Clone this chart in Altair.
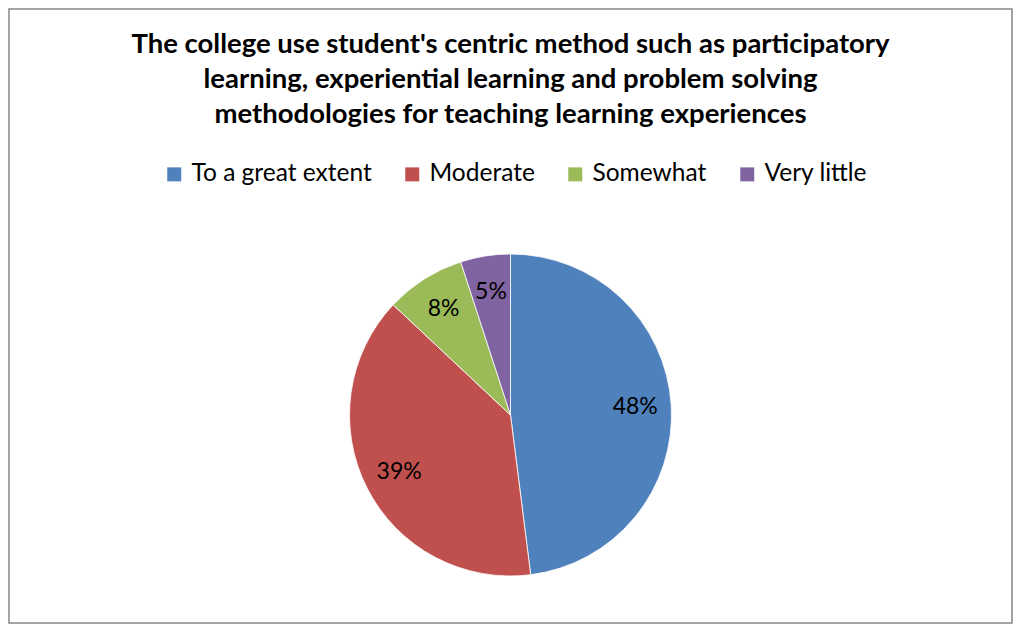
import altair as alt
import pandas as pd

categories = ["To a great extent", "Moderate", "Somewhat", "Very little"]
values = [48, 39, 8, 5]
labels = ["48%", "39%", "8%", "5%"]
colors = ["#4F81BD", "#C0504D", "#9BBB59", "#8064A2"]
title_lines = [
    "The college use student's centric method such as participatory",
    "learning, experiential learning and problem solving",
    "methodologies for teaching learning experiences",
]

df = pd.DataFrame({"category": categories, "value": values, "label": labels,
                   "order": list(range(len(categories)))})

FONT = "Lato"

base = alt.Chart(df).encode(
    theta=alt.Theta("value:Q", stack=True),
    order=alt.Order("order:Q"),
)

arc = base.mark_arc(radius=161, stroke="white", strokeWidth=0.8).encode(
    color=alt.Color(
        "category:N",
        scale=alt.Scale(domain=categories, range=colors),
        sort=categories,
        legend=alt.Legend(
            title=None, orient="none", legendX=153, legendY=153,
            direction="horizontal", columns=4, symbolType="square",
            symbolSize=196, symbolStrokeWidth=0, labelFontSize=24.5,
            labelFont=FONT, labelColor="black", columnPadding=28,
            labelOffset=5, padding=0, labelLimit=0,
        ),
    ),
    y=alt.value(406),
)

text = base.mark_text(radius=125, fontSize=23, font=FONT, color="black").encode(
    text="label:N",
    y=alt.value(406),
)

chart = (arc + text).properties(
    width=1003,
    height=614,
    padding=1,
    autosize=alt.AutoSizeParams(type="none"),
    title=alt.TitleParams(
        text=title_lines, fontSize=27.5, font=FONT, fontWeight="bold",
        color="black", anchor="middle", lineHeight=35, baseline="top",
        offset=0, dy=119,
    ),
).configure_view(stroke="#868686", strokeWidth=1.5)

chart.save("out.html", embed_options={"renderer": "svg", "actions": False})
